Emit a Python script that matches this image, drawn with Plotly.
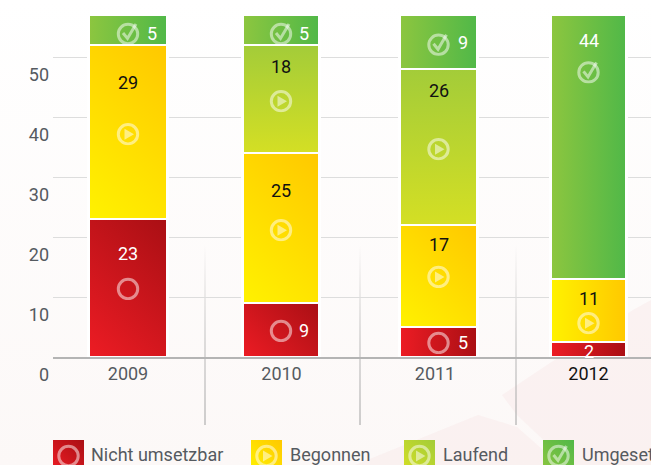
import base64, json
import plotly.graph_objects as go

# ---- data ----
years = ["2009", "2010", "2011", "2012"]
nicht_umsetzbar = [23, 9, 5, 2.5]
begonnen = [29, 25, 17, 10.5]
laufend = [0, 18, 26, 0]
umgesetzt = [5, 5, 9, 44]
y_ticks = [0, 10, 20, 30, 40, 50]

W, H = 651, 465
L, T, B = 53, 16, 357
PX_PER_Y = 6.0
CAT_STEP = 153.5
X0 = 128.0
centers_px = [128, 281, 438.5, 588.5]
widths_px = [79, 77, 78, 76]


def px2x(px):
    return (px - X0) / CAT_STEP


def b64svg(svg):
    return "data:image/svg+xml;base64," + base64.b64encode(svg.encode()).decode()


def grad(id_, stops, x1=0, y1=1, x2=1, y2=0):
    s = "".join(f'<stop offset="{o}" stop-color="{c}" stop-opacity="{a}"/>' for o, c, a in stops)
    return f'<linearGradient id="{id_}" x1="{x1}" y1="{y1}" x2="{x2}" y2="{y2}">{s}</linearGradient>'


# icons
RING = '<circle cx="12" cy="13" r="9.7" fill="none" stroke="#fff" stroke-opacity="{o}" stroke-width="3"/>'
PLAY = '<path d="M8.5 7.5 L18 13 L8.5 18.5 Z" fill="#fff" fill-opacity="{o}"/>'
CHECK = ('<path d="M7 12 L11.5 17.5 L20 3" fill="none" stroke="#fff" stroke-opacity="{o}" '
         'stroke-width="3"/>')


def icon_body(kind, o=0.5):
    s = RING.format(o=o)
    if kind == "play":
        s += PLAY.format(o=o)
    if kind == "check":
        s += CHECK.format(o=o)
    return s


def icon(kind):
    return b64svg('<svg xmlns="http://www.w3.org/2000/svg" width="24" height="24" viewBox="0 0 24 24">'
                  + icon_body(kind) + '</svg>')


icons = [
    ("ring", 0, 11.5), ("ring", 1, 4.5), ("ring", 2, 2.5),
    ("play", 0, 37.3), ("play", 1, 21.3), ("play", 2, 13.5), ("play", 3, 5.8),
    ("play", 1, 42.8), ("play", 2, 34.8),
    ("check", 0, 54.0), ("check", 1, 54.0), ("check", 2, 52.2), ("check", 3, 47.6),
]
# value, category, y position, x shift, colour
labels = [
    ("23", 0, 17.2, 0, "#fff"), ("29", 0, 45.8, 0, "#111"), ("5", 0, 54.0, 24, "#fff"),
    ("9", 1, 4.5, 23, "#fff"), ("25", 1, 27.8, 0, "#111"), ("18", 1, 48.5, 0, "#111"), ("5", 1, 54.0, 23, "#fff"),
    ("5", 2, 2.5, 24, "#fff"), ("17", 2, 18.7, 0, "#111"), ("26", 2, 44.5, 0, "#111"), ("9", 2, 52.5, 24, "#fff"),
    ("2", 3, 1.0, 0, "#fff"), ("11", 3, 9.7, 0, "#111"), ("44", 3, 52.7, 0, "#fff"),
]

fig = go.Figure()
series = [
    ("Nicht umsetzbar", nicht_umsetzbar, "#d2141c"),
    ("Begonnen", begonnen, "#ffdc00"),
    ("Laufend", laufend, "#bcd62e"),
    ("Umgesetzt", umgesetzt, "#6cbd45"),
]
for name, vals, col in series:
    fig.add_bar(
        x=years, y=vals, name=name, marker=dict(color=col, line=dict(color="#fff", width=2.5)),
        width=[w / CAT_STEP for w in widths_px],
        offset=[px2x(c) - i - w / CAT_STEP / 2 for i, (c, w) in enumerate(zip(centers_px, widths_px))],
        showlegend=False, hoverinfo="skip",
    )

images = []
# page background
bg = ('<svg xmlns="http://www.w3.org/2000/svg" width="651" height="465" viewBox="0 0 651 465">'
      '<defs>' + grad("g", [(0, "#ffffff", 1), (1, "#fcf8f7", 1)], 0, 0, 0, 1) + '</defs>'
      '<rect width="651" height="465" fill="url(#g)"/>'
      '<path d="M502 395 L550 363 L633 310 L651 300 L651 465 L570 465 L517 415 Z" fill="#f8e6e6" fill-opacity="0.4"/>'
      '<path d="M355 465 L478 415 L517 427 L560 465 Z" fill="#f8e6e6" fill-opacity="0.4"/>'
      '</svg>')
images.append(dict(source=b64svg(bg), xref="paper", yref="paper", x=-L / (W - L), y=1 + T / (B - T),
                   sizex=W / (W - L), sizey=H / (B - T), xanchor="left", yanchor="top",
                   sizing="stretch", layer="below"))


def paper_x(px):
    return (px - L) / (W - L)


def paper_y(px):
    return (B - px) / (B - T)


# separators
sep = ('<svg xmlns="http://www.w3.org/2000/svg" width="1.5" height="180" viewBox="0 0 1.5 180"><defs>'
       + grad("s", [(0, "#aaaaaa", 0), (0.55, "#b5b5b5", 0.8), (1, "#aaaaaa", 1)], 0, 0, 0, 1)
       + '</defs><rect width="1.5" height="180" fill="url(#s)"/></svg>')
for px in [205, 360, 516]:
    images.append(dict(source=b64svg(sep), xref="paper", yref="paper", x=paper_x(px - 0.75), y=paper_y(245),
                       sizex=1.5 / (W - L), sizey=180 / (B - T), xanchor="left", yanchor="top",
                       sizing="stretch", layer="below"))

# icons on bars
for kind, i, yv in icons:
    images.append(dict(source=icon(kind), xref="x", yref="y", x=px2x(centers_px[i]), y=yv,
                       sizex=24 / CAT_STEP, sizey=24 / PX_PER_Y, xanchor="center", yanchor="middle",
                       sizing="stretch", layer="above"))

# legend
legend_items = [
    ("Nicht umsetzbar", 53, 89, [(0, "#ed1c24", 1), (1, "#a90f14", 1)], "ring"),
    ("Begonnen", 251, 288, [(0, "#fff200", 1), (1, "#ffc800", 1)], "play"),
    ("Laufend", 404, 441, [(0, "#d4df24", 1), (1, "#a3cc39", 1)], "play"),
    ("Umgesetzt", 543, 580, [(0, "#8dc63f", 1), (1, "#50b848", 1)], "check"),
]
annotations = []
for name, bx, tx, stops, kind in legend_items:
    svg = ('<svg xmlns="http://www.w3.org/2000/svg" width="31" height="31" viewBox="0 0 31 31"><defs>'
           + grad("l", stops) + '</defs><rect width="31" height="31" fill="url(#l)"/>'
           f'<g transform="translate(3.5,3)">{icon_body(kind)}</g></svg>')
    images.append(dict(source=b64svg(svg), xref="paper", yref="paper", x=paper_x(bx), y=paper_y(440),
                       sizex=31 / (W - L), sizey=31 / (B - T), xanchor="left", yanchor="top",
                       sizing="stretch", layer="above"))
    annotations.append(dict(text=name, xref="paper", yref="paper", x=paper_x(tx), y=paper_y(454),
                            xanchor="left", yanchor="middle", showarrow=False,
                            font=dict(size=18, color="#555a60")))

for t, i, yv, xs, col in labels:
    annotations.append(dict(text=t, xref="x", yref="y", x=px2x(centers_px[i]), y=yv, xshift=xs,
                            xanchor="center", yanchor="middle", showarrow=False,
                            font=dict(size=18, color=col)))

ticktext = years[:3] + [f"<span style='color:#111'>{years[3]}</span>"]
fig.update_layout(
    width=W, height=H, barmode="stack",
    margin=dict(l=L, r=0, t=T, b=H - B, pad=0, autoexpand=False),
    paper_bgcolor="#fff", plot_bgcolor="rgba(0,0,0,0)",
    font=dict(family="Roboto, sans-serif", size=18, color="#555a60"),
    images=images, annotations=annotations,
    xaxis=dict(type="category", categoryorder="array", categoryarray=years, tickmode="array",
               tickvals=years, ticktext=ticktext, range=[px2x(L), px2x(W)], showgrid=False,
               showline=True, linecolor="#b4b4b4", linewidth=1.5, ticks="", ticklabelstandoff=0,
               zeroline=False),
    yaxis=dict(range=[0, (B - T) / PX_PER_Y], tickmode="array", tickvals=y_ticks, gridcolor="#dddddd",
               gridwidth=1.2, zeroline=False, showline=False, ticks="", ticklabelshift=18,
               ticklabelstandoff=3),
)

grad_spec = {
    0: [("#ed1c24", "#a90f14", "d"), ("#ed1c24", "#a90f14", "d"), ("#ed1c24", "#a90f14", "h"), ("#ed1c24", "#a90f14", "h")],
    1: [("#fff200", "#ffc800", "d"), ("#fff200", "#ffc800", "d"), ("#fff200", "#ffc800", "d"), ("#fff200", "#ffc800", "h")],
    2: [("#d4df24", "#a3cc39", "v")] * 4,
    3: [("#8dc63f", "#50b848", "h")] * 4,
}
post = """
document.documentElement.style.overflow='hidden';
document.body.style.margin='0';
var gd=document.getElementById('{plot_id}');
var spec=%s;
var defs=gd.querySelector('.main-svg defs');
var ns='http://www.w3.org/2000/svg';
gd.querySelectorAll('.barlayer .trace').forEach(function(tr,t){
  tr.querySelectorAll('.point path').forEach(function(p,k){
    var d=p.parentNode.__data__;var i=(d&&d.i!==undefined)?d.i:k;
    var s=spec[t][i];var id='bg'+t+'_'+i;var g=document.createElementNS(ns,'linearGradient');
    var b=p.getBBox();var c;
    if(s[2]=='d'){var m=(b.width+b.height)/2;c=[b.x,b.y+b.height,b.x+m,b.y+b.height-m];}
    else if(s[2]=='h'){c=[b.x,b.y,b.x+b.width,b.y];}
    else{c=[b.x,b.y+b.height,b.x,b.y];}
    g.setAttribute('id',id);g.setAttribute('gradientUnits','userSpaceOnUse');
    ['x1','y1','x2','y2'].forEach(function(a,n){g.setAttribute(a,c[n]);});
    [[0,s[0]],[1,s[1]]].forEach(function(o){var st=document.createElementNS(ns,'stop');
      st.setAttribute('offset',o[0]);st.setAttribute('stop-color',o[1]);g.appendChild(st);});
    defs.appendChild(g);p.style.fill='url(#'+id+')';
  });
});
""" % json.dumps(grad_spec)

fig.write_html("out.html", post_script=post, config={"displayModeBar": False})
